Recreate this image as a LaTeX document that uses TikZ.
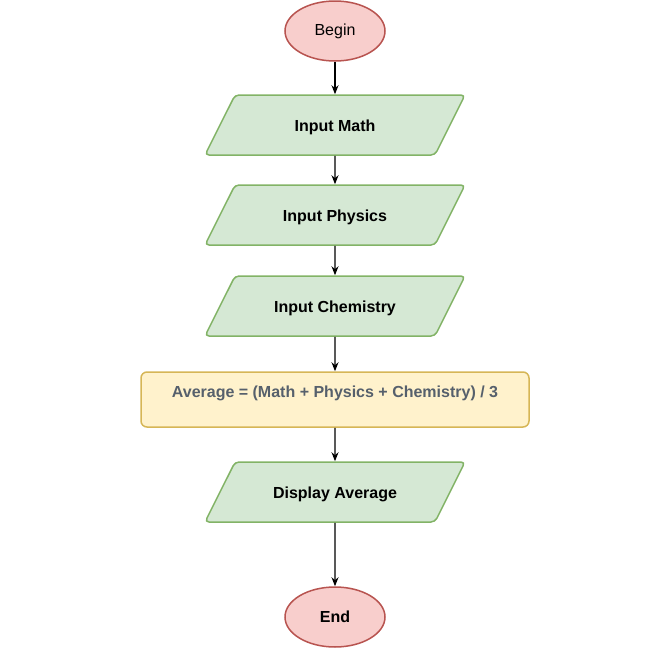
\documentclass[tikz,border=0pt]{standalone}
\usepackage{fontspec}
\setmainfont{Liberation Sans}
\usetikzlibrary{arrows.meta,shapes.geometric}
\definecolor{TermFill}{HTML}{F8CECC}
\definecolor{TermLine}{HTML}{B85450}
\definecolor{IOFill}{HTML}{D5E8D4}
\definecolor{IOLine}{HTML}{82B366}
\definecolor{ProcFill}{HTML}{FFF2CC}
\definecolor{ProcLine}{HTML}{D6B656}
\definecolor{ProcText}{HTML}{56606C}

\tikzset{
  flowfont/.style={font=\fontsize{16}{19}\selectfont},
  terminal/.style={ellipse,draw=TermLine,fill=TermFill,line width=1.5pt,
    minimum width=100pt,minimum height=60pt,inner sep=0pt,flowfont},
  ioshape/.style={trapezium,trapezium left angle=63.4,trapezium right angle=116.6,
    trapezium stretches body,draw=IOLine,fill=IOFill,line width=1.5pt,
    minimum width=260pt,inner xsep=0pt,inner ysep=24pt,
    text height=12pt,text depth=0pt,rounded corners=4pt,flowfont},
  procbox/.style={rectangle,draw=ProcLine,fill=ProcFill,line width=1.5pt,
    minimum width=388pt,minimum height=55pt,inner sep=0pt,rounded corners=6pt,
    text height=12pt,text depth=17pt,text=ProcText,flowfont},
  flowline/.style={-{Stealth[length=9pt,width=7pt]},line width=1.2pt}
}

\begin{document}
\begin{tikzpicture}[x=1pt,y=-1pt]
\useasboundingbox (0,0) rectangle (670,648);

\node[terminal] (begin) at (335,31) {Begin};
\node[ioshape] (math) at (335,125) {\bfseries Input Math};
\node[ioshape] (phys) at (335,215) {\bfseries Input Physics};
\node[ioshape] (chem) at (335,306) {\bfseries Input Chemistry};
\node[procbox] (avg) at (335,399.5) {\bfseries Average = (Math + Physics + Chemistry) / 3};
\node[ioshape] (disp) at (335,492) {\bfseries Display Average};
\node[terminal] (end) at (335,617) {\bfseries End};

\draw[flowline] (begin) -- (math);
\draw[flowline] (math) -- (phys);
\draw[flowline] (phys) -- (chem);
\draw[flowline] (chem) -- (avg);
\draw[flowline] (avg) -- (disp);
\draw[flowline] (disp) -- (end);

\end{tikzpicture}
\end{document}
